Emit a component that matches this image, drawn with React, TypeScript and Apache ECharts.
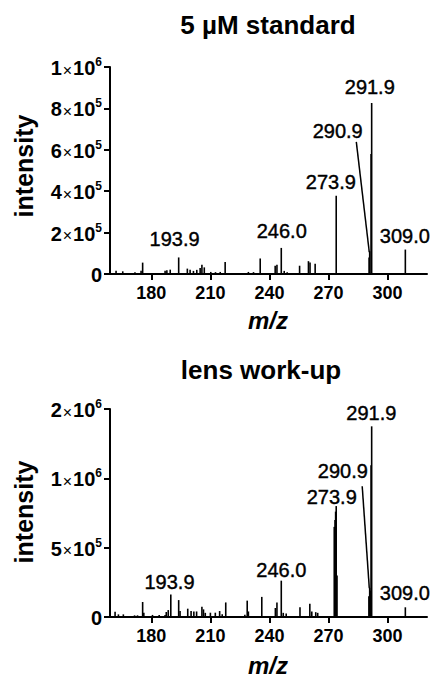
import React, { useEffect, useRef } from 'react';
import * as echarts from 'echarts';

// ---- data: 5 µM standard ----
const stdMz = [162.1, 165.5, 171.7, 174.8, 175.6, 187.0, 187.9, 189.6, 193.9, 198.3, 199.7, 201.4, 203.1, 204.8, 205.7, 206.9, 210.2, 212.6, 215.0, 217.5, 229.3, 231.9, 235.3, 242.9, 243.8, 246.0, 247.5, 249.0, 255.3, 259.8, 260.6, 263.2, 273.9, 290.6, 290.9, 291.6, 291.9, 309.0];
const stdIntensity = [16000, 13000, 8000, 16000, 55000, 16000, 18000, 21000, 80000, 26000, 21000, 15000, 20000, 29000, 45000, 32000, 10000, 9000, 10000, 58000, 10000, 9000, 75000, 40000, 45000, 126000, 15000, 8000, 40000, 62000, 55000, 50000, 378000, 80000, 110000, 580000, 826000, 118000];

// ---- data: lens work-up ----
const lensMz = [161.6, 163.3, 165.8, 171.5, 173.0, 175.6, 176.2, 180.6, 184.0, 187.0, 187.6, 188.6, 189.9, 193.9, 194.6, 198.5, 200.2, 201.6, 203.0, 205.7, 206.5, 207.4, 210.0, 212.5, 214.7, 216.0, 217.8, 227.5, 228.7, 229.3, 236.1, 243.0, 243.8, 246.0, 247.0, 248.5, 255.5, 260.5, 261.5, 263.5, 264.5, 272.9, 273.3, 273.6, 273.9, 274.3, 290.5, 290.9, 291.2, 291.6, 291.9, 309.0];
const lensIntensity = [38000, 19000, 19000, 12000, 12000, 108000, 31000, 15000, 15000, 15000, 36000, 50000, 163000, 122000, 43000, 60000, 43000, 40000, 40000, 74000, 55000, 30000, 31000, 31000, 43000, 20000, 105000, 17000, 118000, 40000, 145000, 65000, 105000, 262000, 30000, 25000, 70000, 95000, 40000, 35000, 30000, 650000, 700000, 760000, 800000, 300000, 150000, 210000, 190000, 1190000, 1750000, 70000];

// ---- axes ----
const xTicks = [180, 210, 240, 270, 300];
const stdYTicks = [0, 200000, 400000, 600000, 800000, 1000000];
const stdYTickLabels = ['0', '2×10^5', '4×10^5', '6×10^5', '8×10^5', '1×10^6'];
const lensYTicks = [0, 500000, 1000000, 2000000];
const lensYTickLabels = ['0', '5×10^5', '1×10^6', '2×10^6'];

// ---- peak annotations ----
const stdPeakLabels = ['193.9', '246.0', '273.9', '290.9', '291.9', '309.0'];
const stdLabelAnchorMz = [192.1, 246.5, 271.4, 274.9, 291.2, 309.0];
const stdLabelAnchorInt = [169000, 203000, 440000, 686000, 899000, 179000];
const stdLeaderMz = [284.1, 290.7];
const stdLeaderInt = [638000, 105000];

const lensPeakLabels = ['193.9', '246.0', '273.9', '290.9', '291.9', '309.0'];
const lensLabelAnchorMz = [189.5, 246.3, 271.9, 277.5, 292.0, 309.0];
const lensLabelAnchorInt = [251000, 337000, 864000, 1100000, 1940000, 172000];
const lensLeaderMz = [287.1, 290.7];
const lensLeaderInt = [943000, 208000];

const FONT = '"Liberation Sans", Arial, Helvetica, sans-serif';

// segmented lens axis: 0..1e6 occupies 2 units, 1e6..2e6 one unit
const lensScale = (v: number) => (v <= 1000000 ? v / 500000 : 2 + (v - 1000000) / 1000000);

const toRich = (s: string) => {
  if (!s.includes('×')) return `{b|${s}}`;
  const [m, rest] = s.split('×');
  const [base, exp] = rest.split('^');
  return `{b|${m}}{x|×}{b|${base}}{s|${exp}}`;
};

const rich = {
  b: { fontSize: 20, fontWeight: 'bold', fontFamily: FONT, color: '#000', lineHeight: 22, verticalAlign: 'bottom' },
  x: { fontSize: 16, fontFamily: FONT, color: '#000', lineHeight: 20, verticalAlign: 'bottom', padding: [0, 1, 0, 1] },
  s: { fontSize: 12, fontWeight: 'bold', fontFamily: FONT, color: '#000', lineHeight: 13, verticalAlign: 'top' },
};

export default function App() {
  const ref = useRef<HTMLDivElement>(null);
  useEffect(() => {
    if (!ref.current) return;
    const chart = echarts.init(ref.current, undefined, { renderer: 'svg' });

    const grids = [
      { left: 107, top: 67, width: 320, height: 207 },
      { left: 107, top: 409, width: 320, height: 208 },
    ];

    const mkX = (gi: number) => ({
      type: 'value',
      gridIndex: gi,
      min: 157.5,
      max: 320,
      axisLine: { show: true, lineStyle: { color: '#000', width: 2 } },
      axisTick: { show: true, customValues: xTicks, length: 6, inside: false, lineStyle: { color: '#000', width: 2 } },
      axisLabel: {
        customValues: xTicks,
        margin: 10,
        fontSize: 18,
        fontWeight: 'bold',
        fontFamily: FONT,
        color: '#000',
      },
      splitLine: { show: false },
    });

    const labelStyle = {
      show: true,
      position: [0, 0],
      align: 'center',
      verticalAlign: 'middle',
      formatter: '{b}',
      fontSize: 20,
      fontFamily: FONT,
      color: '#000',
      opacity: 1,
      textBorderColor: '#000',
      textBorderWidth: 0.4,
    };

    const option: any = {
      animation: false,
      backgroundColor: '#fff',
      grid: grids,
      xAxis: [mkX(0), mkX(1)],
      yAxis: [
        {
          type: 'value',
          gridIndex: 0,
          min: 0,
          max: 1000000,
          interval: 200000,
          offset: -3,
          axisLine: { show: true, lineStyle: { color: '#000', width: 2 } },
          axisTick: { show: true, length: 6, lineStyle: { color: '#000', width: 2 } },
          axisLabel: {
            margin: 8,
            formatter: (v: number) => {
              const i = stdYTicks.findIndex((t) => Math.abs(t - v) < 1);
              return i >= 0 ? toRich(stdYTickLabels[i]) : '';
            },
            rich,
          },
          splitLine: { show: false },
        },
        {
          type: 'value',
          gridIndex: 1,
          min: 0,
          max: 3,
          interval: 1,
          offset: -3,
          axisLine: { show: true, lineStyle: { color: '#000', width: 2 } },
          axisTick: { show: true, length: 6, lineStyle: { color: '#000', width: 2 } },
          axisLabel: {
            margin: 8,
            formatter: (v: number) => {
              const i = lensYTicks.findIndex((t) => Math.abs(lensScale(t) - v) < 1e-6);
              return i >= 0 ? toRich(lensYTickLabels[i]) : '';
            },
            rich,
          },
          splitLine: { show: false },
        },
      ],
      series: [
        {
          type: 'bar',
          xAxisIndex: 0,
          yAxisIndex: 0,
          barWidth: 1.6,
          itemStyle: { color: '#000' },
          data: stdMz.map((m, i) => [m, stdIntensity[i]]),
        },
        {
          type: 'bar',
          xAxisIndex: 1,
          yAxisIndex: 1,
          barWidth: 1.6,
          itemStyle: { color: '#000' },
          data: lensMz.map((m, i) => [m, lensScale(lensIntensity[i])]),
        },
        {
          type: 'line',
          xAxisIndex: 0,
          yAxisIndex: 0,
          symbol: 'none',
          lineStyle: { color: '#000', width: 1.5 },
          data: stdLeaderMz.map((m, i) => [m, stdLeaderInt[i]]),
        },
        {
          type: 'line',
          xAxisIndex: 1,
          yAxisIndex: 1,
          symbol: 'none',
          lineStyle: { color: '#000', width: 1.5 },
          data: lensLeaderMz.map((m, i) => [m, lensScale(lensLeaderInt[i])]),
        },
        {
          type: 'scatter',
          xAxisIndex: 0,
          yAxisIndex: 0,
          symbolSize: 1,
          itemStyle: { color: 'rgba(255,255,255,0)' },
          label: labelStyle,
          data: stdPeakLabels.map((t, i) => ({ name: t, value: [stdLabelAnchorMz[i], stdLabelAnchorInt[i]] })),
        },
        {
          type: 'scatter',
          xAxisIndex: 1,
          yAxisIndex: 1,
          symbolSize: 1,
          itemStyle: { color: 'rgba(255,255,255,0)' },
          label: labelStyle,
          data: lensPeakLabels.map((t, i) => ({ name: t, value: [lensLabelAnchorMz[i], lensScale(lensLabelAnchorInt[i])] })),
        },
      ],
      graphic: [
        { type: 'text', x: 268, y: 25, style: { text: '5 µM standard', font: `bold 26px ${FONT}`, fill: '#000', align: 'center', verticalAlign: 'middle' } },
        { type: 'text', x: 261, y: 370, style: { text: 'lens work-up', font: `bold 26px ${FONT}`, fill: '#000', align: 'center', verticalAlign: 'middle' } },
        { type: 'text', x: 24, y: 166, rotation: Math.PI / 2, style: { text: 'intensity', font: `bold 25px ${FONT}`, fill: '#000', align: 'center', verticalAlign: 'middle' } },
        { type: 'text', x: 24, y: 512, rotation: Math.PI / 2, style: { text: 'intensity', font: `bold 25px ${FONT}`, fill: '#000', align: 'center', verticalAlign: 'middle' } },
        { type: 'text', x: 268, y: 320, style: { text: 'm/z', font: `italic bold 24px ${FONT}`, fill: '#000', align: 'center', verticalAlign: 'middle' } },
        { type: 'text', x: 268, y: 665, style: { text: 'm/z', font: `italic bold 24px ${FONT}`, fill: '#000', align: 'center', verticalAlign: 'middle' } },
      ],
    };
    chart.setOption(option);
    return () => chart.dispose();
  }, []);
  return <div ref={ref} style={{ position: 'fixed', left: 0, top: 0, width: 431, height: 680, background: '#fff' }} />;
}
